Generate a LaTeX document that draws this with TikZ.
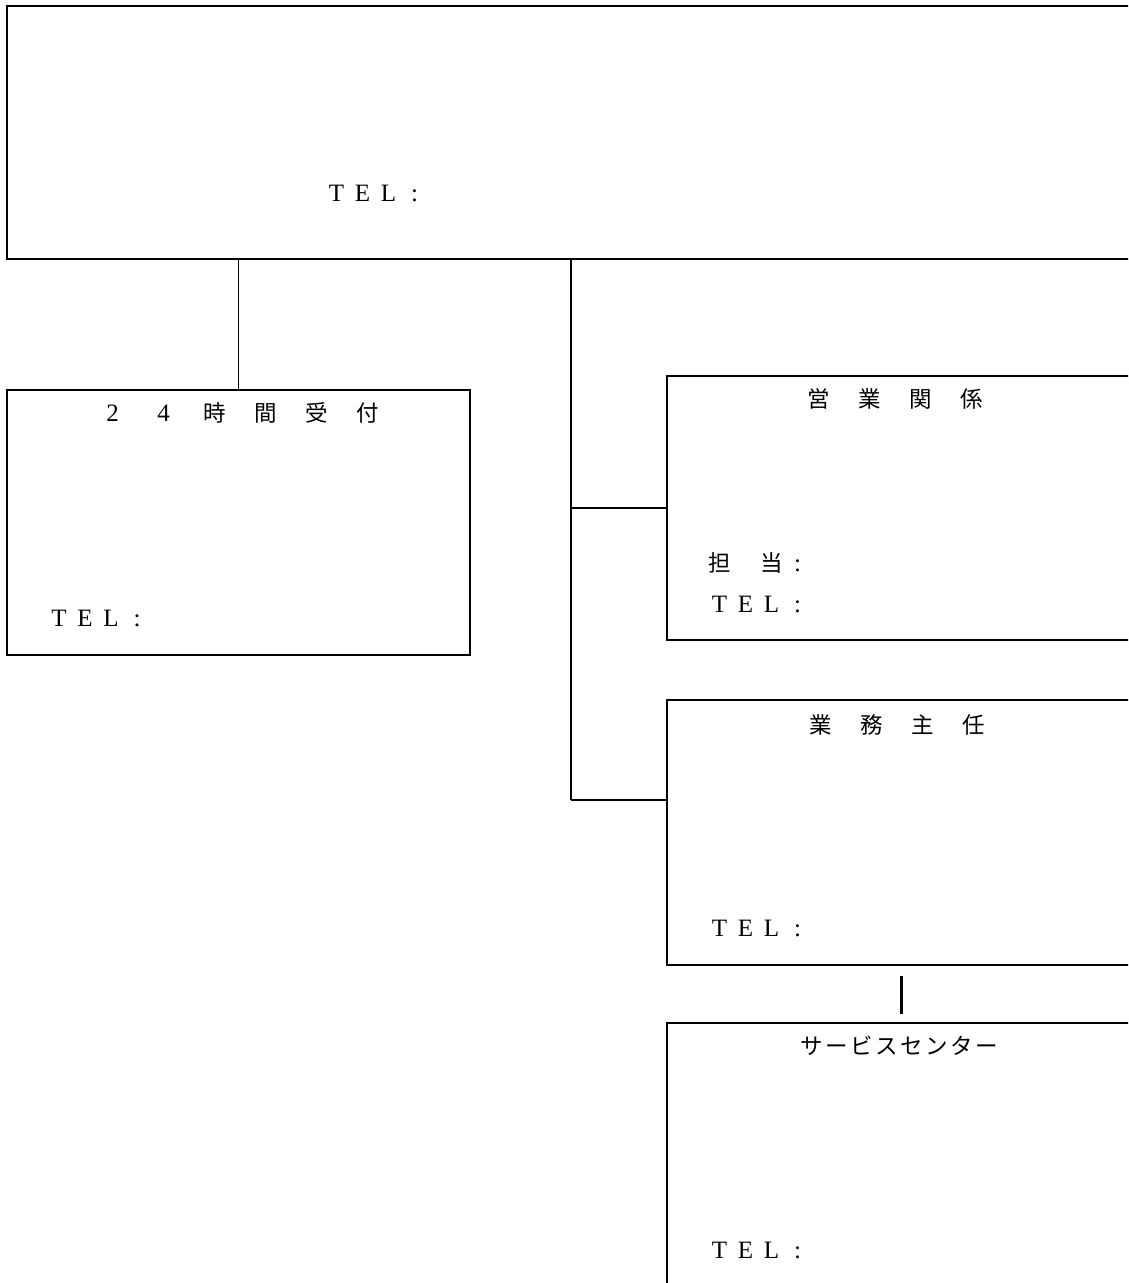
\documentclass[tikz,border=0pt]{standalone}
\usepackage{fontspec}
\setmainfont{Liberation Serif}
\newfontfamily\jp[Scale=0.9]{Noto Sans CJK JP}
\newcommand\cb[2]{\makebox[#1pt][c]{#2}}
\newcommand\telrow{\cb{26}{T}\cb{26}{E}\cb{26}{L}\cb{26}{:}}
\begin{document}
\begin{tikzpicture}[x=1pt,y=-1pt,
  boxnode/.style={draw,line width=1.5pt,inner sep=0pt,outer sep=0pt,anchor=north west},
  txt/.style={inner sep=0pt,font=\fontsize{25}{28}\selectfont},
  conn/.style={line width=1.5pt},
  thick conn/.style={line width=3pt}]
\clip (0,0) rectangle (1128,1283);
\fill[white] (0,0) rectangle (1128,1283);
% boxes
\node[boxnode,minimum width=1140pt,minimum height=253pt] (top) at (7,6) {};
\node[boxnode,minimum width=463pt,minimum height=265pt] (recv) at (7,390) {};
\node[boxnode,minimum width=480pt,minimum height=264pt] (sales) at (667,376) {};
\node[boxnode,minimum width=480pt,minimum height=265pt] (duty) at (667,700) {};
\node[boxnode,minimum width=480pt,minimum height=280pt] (svc) at (667,1023) {};
% texts
\node[txt] (toptel) at (375.5,193) {\telrow};
\node[txt] (recvtitle) at (240,413) {\cb{51}{2}\cb{51}{4}\cb{51}{\jp 時}\cb{51}{\jp 間}\cb{51}{\jp 受}\cb{51}{\jp 付}};
\node[txt] (recvtel) at (98,618) {\telrow};
\node[txt] (salestitle) at (895.5,399) {\cb{51}{\jp 営}\cb{51}{\jp 業}\cb{51}{\jp 関}\cb{51}{\jp 係}};
\node[txt] (salesperson) at (758.5,563) {\cb{26}{\jp 担}\cb{26}{}\cb{26}{\jp 当}\cb{26}{:}};
\node[txt] (salestel) at (758.5,604) {\telrow};
\node[txt] (dutytitle) at (897.5,725) {\cb{51}{\jp 業}\cb{51}{\jp 務}\cb{51}{\jp 主}\cb{51}{\jp 任}};
\node[txt] (dutytel) at (758.5,928) {\telrow};
\node[txt] (svctitle) at (899,1046) {\jp\cb{25}{サ}\cb{25}{ー}\cb{25}{ビ}\cb{25}{ス}\cb{25}{セ}\cb{25}{ン}\cb{25}{タ}\cb{25}{ー}};
\node[txt] (svctel) at (758.5,1250) {\telrow};
% connectors
\coordinate (trunk) at (571,259);
\coordinate (b2) at (667,800);
\coordinate (s1) at (901,976);
\coordinate (s2) at (901,1014);
\draw[conn] (top.south -| recv.north) -- (recv.north);
\draw[conn] (trunk) -- (trunk |- b2);
\draw[conn] (trunk |- sales.west) -- (sales.west);
\draw[conn] (trunk |- b2) -- (b2);
\draw[thick conn] (s1) -- (s2);
\end{tikzpicture}
\end{document}
